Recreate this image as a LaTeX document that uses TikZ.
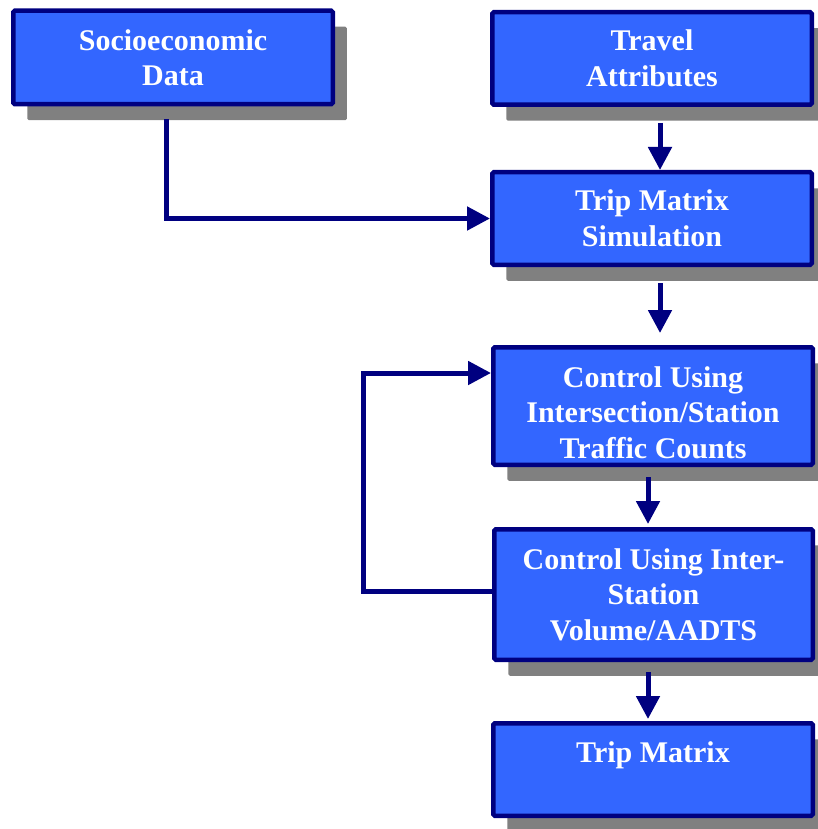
\documentclass[tikz,border=0pt]{standalone}
\usepackage{fontspec}
\setmainfont{Liberation Serif}
\usetikzlibrary{arrows.meta,shadows,calc}
\definecolor{boxblue}{HTML}{3366FF}
\definecolor{navyline}{HTML}{000080}
\definecolor{shadowgray}{HTML}{808080}
\tikzset{
  flowbox/.style={draw=navyline, fill=boxblue, line width=4.5pt, rounded corners=1.5pt,
    minimum width=319.5pt, text=white, align=center,
    font=\fontsize{30}{35.5}\selectfont\bfseries, inner sep=0pt,
    drop shadow={shadow xshift=14pt, shadow yshift=-16pt, fill=shadowgray, opacity=1}},
  arr/.style={draw=navyline, line width=5pt,
    -{Triangle[width=23pt,length=23pt]}},
}
\begin{document}
\begin{tikzpicture}[x=1pt,y=-1pt]
\useasboundingbox (0,0) rectangle (817,829);
\node[flowbox, minimum height=93.5pt] (socio) at (173,57.5) {Socioeconomic\\Data};
\node[flowbox, minimum height=92.5pt] (travel) at (652,58.5) {Travel\\Attributes};
\node[flowbox, minimum height=92.5pt] (tms) at (652,218.5) {Trip Matrix\\Simulation};
\node[flowbox, minimum height=117.5pt] (c1) at (653,406) {\raisebox{-9.5pt}[\height][\depth]{\begin{tabular}{@{}c@{}}Control Using\\Intersection/Station\\Traffic Counts\end{tabular}}};
\node[flowbox, minimum height=130.5pt, minimum width=318.5pt] (c2) at (653.5,594.5) {Control Using Inter-\\Station\\Volume/AADTS};
\node[flowbox, minimum height=92.5pt] (tm) at (653,769.5) {Trip Matrix\\\mbox{}};
\draw[arr] ([xshift=8pt,yshift=-16pt]travel.south) -- ([xshift=8pt]tms.north);
\draw[arr] ([xshift=8pt,yshift=-16pt]tms.south) -- ($(c1.north -| tms.south)+(8,-12)$);
\draw[arr] ([xshift=-5pt,yshift=-10pt]c1.south) -- ([xshift=-5.5pt,yshift=3pt]c2.north);
\draw[arr] ([xshift=-5.5pt,yshift=-10pt]c2.south) -- ([xshift=-5pt,yshift=2pt]tm.north);
\draw[arr] ([xshift=-7pt,yshift=-13pt]socio.south) |- (tms.west);
\draw[arr] ([yshift=3.5pt]c2.west) -- ++(-129,0) |- ([yshift=33pt]c1.west);
\end{tikzpicture}
\end{document}
